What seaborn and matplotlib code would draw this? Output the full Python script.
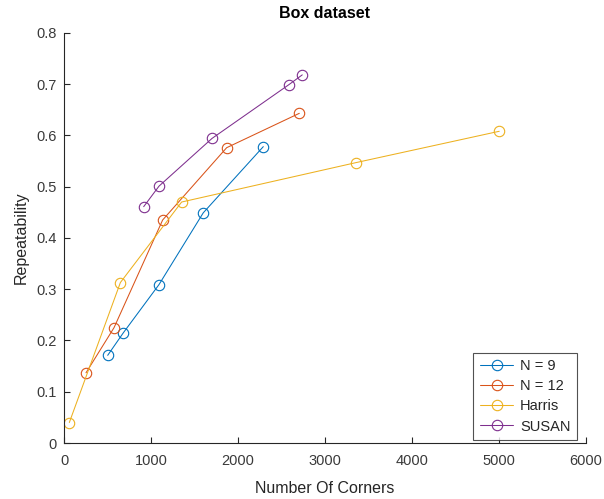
import matplotlib
matplotlib.use("Agg")
import matplotlib.pyplot as plt
import seaborn as sns
import pandas as pd

sns.set_style("white")
plt.rcParams['font.family'] = ['Liberation Sans', 'DejaVu Sans']

series_names = ["N = 9", "N = 12", "Harris", "SUSAN"]
n9_x = [502, 682, 1092, 1601, 2291]
n9_y = [0.171, 0.215, 0.309, 0.449, 0.578]
n12_x = [253, 575, 1134, 1870, 2705]
n12_y = [0.137, 0.225, 0.435, 0.576, 0.643]
harris_x = [61, 648, 1352, 3360, 5004]
harris_y = [0.040, 0.313, 0.470, 0.547, 0.608]
susan_x = [916, 1092, 1701, 2586, 2739]
susan_y = [0.461, 0.501, 0.594, 0.699, 0.718]

colors = ["#0072BD", "#D95319", "#EDB120", "#7E2F8E"]

frames = []
for name, xs, ys in zip(series_names,
                        [n9_x, n12_x, harris_x, susan_x],
                        [n9_y, n12_y, harris_y, susan_y]):
    frames.append(pd.DataFrame({"corners": xs, "rep": ys, "method": name}))
df = pd.concat(frames, ignore_index=True)

fig = plt.figure(figsize=(6.04, 4.99), dpi=100)
ax = fig.add_axes([0.106, 0.1122, 0.864, 0.822])

sns.lineplot(data=df, x="corners", y="rep", hue="method", hue_order=series_names,
             palette=colors, marker="o", markersize=7.5, markerfacecolor="none",
             linewidth=0.75, sort=False, estimator=None, ax=ax)
for line in ax.get_lines():
    line.set_markerfacecolor("none")
    line.set_markeredgecolor(line.get_color())
    line.set_markeredgewidth(0.8)

ax.set_xlim(0, 6000)
ax.set_ylim(0, 0.8)
ax.set_xticks([0, 1000, 2000, 3000, 4000, 5000, 6000])
ax.set_yticks([0, 0.1, 0.2, 0.3, 0.4, 0.5, 0.6, 0.7, 0.8])
ax.set_yticklabels(["0", "0.1", "0.2", "0.3", "0.4", "0.5", "0.6", "0.7", "0.8"])
ax.tick_params(axis="x", pad=8)
ax.tick_params(axis="y", pad=5)
ax.tick_params(direction="in", length=4, width=0.8, colors="#262626",
               labelsize=10.5, labelcolor="#3a3a3a",
               bottom=True, left=True)
for s in ["top", "right"]:
    ax.spines[s].set_visible(False)
for s in ["left", "bottom"]:
    ax.spines[s].set_color("#262626")
    ax.spines[s].set_linewidth(0.8)

ax.set_xlabel("Number Of Corners", fontsize=11.5, color="#262626", labelpad=9)
ax.set_ylabel("Repeatability", fontsize=11.5, color="#262626", labelpad=6)
ax.set_title("Box dataset", fontsize=11.5, fontweight="bold", color="black", pad=11)

leg = ax.legend(loc="lower right", bbox_to_anchor=(0.983, 0.007),
                fontsize=10.5, frameon=True, fancybox=False,
                edgecolor="#262626", borderpad=0.45, labelspacing=0.42,
                handlelength=2.3, handletextpad=0.45, borderaxespad=0.0)
leg.get_frame().set_linewidth(0.8)
for h in leg.get_lines():
    h.set_markerfacecolor("none")
    h.set_linewidth(0.75)

fig.savefig("out.png", dpi=100, facecolor="white")
